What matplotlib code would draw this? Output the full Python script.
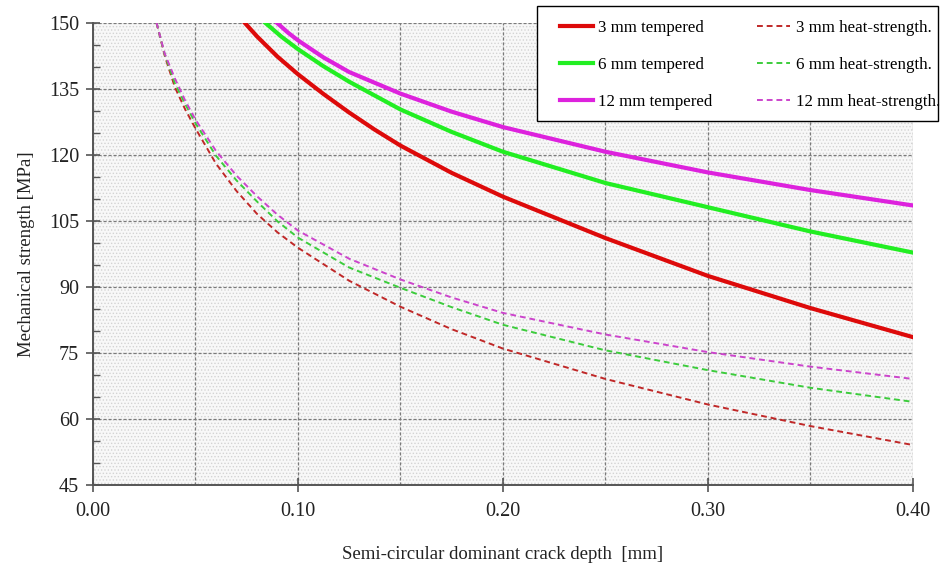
import numpy as np
import matplotlib
matplotlib.use("Agg")
import matplotlib.pyplot as plt
from matplotlib.ticker import MultipleLocator
from matplotlib.patches import Rectangle

# crack depth [mm] and strength [MPa]
x_red_t = [0.074, 0.08, 0.09, 0.10, 0.1125, 0.125, 0.1375, 0.15, 0.175, 0.20, 0.25, 0.30, 0.35, 0.40]
y_red_t = [150.0, 146.9, 142.3, 138.3, 133.8, 129.6, 125.7, 122.1, 115.9, 110.5, 101.1, 92.5, 85.2, 78.6]

x_green_t = [0.084, 0.092, 0.10, 0.1125, 0.125, 0.15, 0.175, 0.20, 0.25, 0.30, 0.35, 0.40]
y_green_t = [150.0, 146.8, 144.0, 140.1, 136.6, 130.3, 125.2, 120.7, 113.6, 108.1, 102.6, 97.8]

x_mag_t = [0.0897, 0.095, 0.10, 0.1125, 0.125, 0.15, 0.175, 0.20, 0.25, 0.30, 0.35, 0.40]
y_mag_t = [150.0, 147.8, 146.0, 142.1, 138.8, 133.9, 129.8, 126.3, 120.7, 116.0, 112.0, 108.5]

x_red_h = [0.031, 0.035, 0.040, 0.045, 0.05, 0.06, 0.07, 0.08, 0.09, 0.10,
           0.125, 0.15, 0.175, 0.20, 0.25, 0.30, 0.35, 0.40]
y_red_h = [150.0, 142.5, 135.3, 130.3, 126.0, 118.0, 111.8, 106.6, 102.4, 98.9,
           91.4, 85.5, 80.4, 76.0, 69.1, 63.3, 58.4, 54.1]

x_green_h = [0.031, 0.035, 0.040, 0.045, 0.05, 0.06, 0.07, 0.08, 0.09, 0.10,
             0.125, 0.15, 0.175, 0.20, 0.25, 0.30, 0.35, 0.40]
y_green_h = [150.0, 142.8, 136.2, 131.5, 127.2, 119.8, 114.2, 109.4, 104.9, 101.2,
             94.4, 89.8, 85.4, 81.4, 75.6, 71.1, 67.1, 63.9]

x_mag_h = [0.031, 0.035, 0.040, 0.045, 0.05, 0.06, 0.07, 0.08, 0.09, 0.10,
           0.125, 0.15, 0.175, 0.20, 0.25, 0.30, 0.35, 0.40]
y_mag_h = [150.0, 143.0, 137.3, 132.3, 128.0, 120.9, 115.3, 110.6, 106.4, 102.8,
           96.4, 91.7, 87.6, 84.1, 79.2, 75.2, 71.9, 69.1]

plt.rcParams['font.family'] = ['Liberation Serif', 'DejaVu Serif']
plt.rcParams['hatch.linewidth'] = 0.6
plt.rcParams['hatch.color'] = '#cfcfcf'

fig = plt.figure(figsize=(9.44, 5.68), dpi=100)
ax = fig.add_axes([0.0985, 0.146, 0.8685, 0.814])

# dotted background
ax.set_facecolor('#f8f8f8')
ax.add_patch(Rectangle((0, 0), 1, 1, transform=ax.transAxes, facecolor='none',
                       edgecolor='#d4d4d4', hatch='.....', lw=0, zorder=0))

ax.plot(x_red_t, y_red_t, color='#dd0a0a', lw=3.0, label='3 mm tempered', zorder=3)
ax.plot(x_green_t, y_green_t, color='#22ee22', lw=3.0, label='6 mm tempered', zorder=3)
ax.plot(x_mag_t, y_mag_t, color='#dd22dd', lw=3.0, label='12 mm tempered', zorder=3)
ax.plot(x_red_h, y_red_h, color='#c02828', lw=1.4, ls=(0, (3, 2)), label='3 mm heat-strength.', zorder=3)
ax.plot(x_green_h, y_green_h, color='#3ccc3c', lw=1.4, ls=(0, (3, 2)), label='6 mm heat-strength.', zorder=3)
ax.plot(x_mag_h, y_mag_h, color='#cc44cc', lw=1.4, ls=(0, (3, 2)), label='12 mm heat-strength.', zorder=3)

ax.set_xlim(0, 0.40)
ax.set_ylim(45, 150)
ax.xaxis.set_major_locator(MultipleLocator(0.10))
ax.xaxis.set_minor_locator(MultipleLocator(0.05))
ax.yaxis.set_major_locator(MultipleLocator(15))
ax.yaxis.set_minor_locator(MultipleLocator(5))
ax.xaxis.set_major_formatter(plt.FormatStrFormatter('%.2f'))

ax.grid(True, which='major', axis='y', color='#7a7a7a', ls=(0, (2.5, 1.5)), lw=0.9, zorder=1)
ax.grid(True, which='both', axis='x', color='#7a7a7a', ls=(0, (2.5, 1.5)), lw=0.9, zorder=1)

for s in ['top', 'right']:
    ax.spines[s].set_visible(False)
for s in ['left', 'bottom']:
    ax.spines[s].set_color('#555555')
    ax.spines[s].set_linewidth(1.4)
    ax.spines[s].set_zorder(4)

ax.tick_params(axis='both', which='major', direction='inout', length=10, width=1.2,
               color='#555555', labelsize=14.5, labelcolor='#222222')
ax.tick_params(axis='x', which='major', pad=7)
ax.tick_params(axis='y', which='major', pad=5)
ax.tick_params(axis='y', which='minor', direction='in', length=5, width=1.0, color='#555555')
ax.tick_params(axis='x', which='minor', length=0)

ax.set_xlabel('Semi-circular dominant crack depth  [mm]', fontsize=13.5, labelpad=18, color='#222222')
ax.set_ylabel('Mechanical strength [MPa]', fontsize=13.5, labelpad=10, color='#222222')

# legend box drawn separately: the right column text runs past its edge
W, H = 944, 568
fig.add_artist(Rectangle((537 / W, 1 - 121 / H), (938 - 537) / W, (121 - 6) / H,
                         transform=fig.transFigure, facecolor='white',
                         edgecolor='black', lw=1.0, zorder=4))
leg = fig.legend(loc='upper left', bbox_to_anchor=(560 / W, 1 - 20 / H), ncol=2,
                 fontsize=12.2, frameon=False, handlelength=1.95, handletextpad=0.3,
                 columnspacing=2.66, labelspacing=1.25, borderpad=0, borderaxespad=0)
leg.set_zorder(5)

fig.savefig('out.png', dpi=100)
